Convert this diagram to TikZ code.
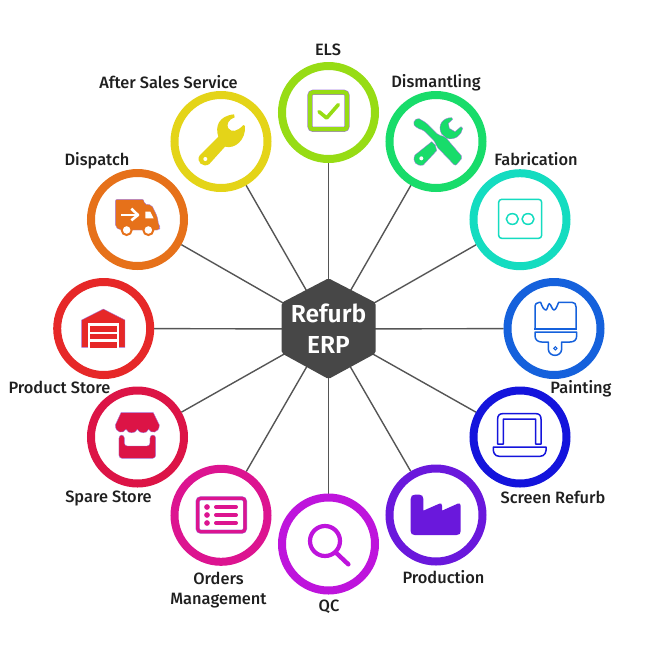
\documentclass[tikz,border=0pt]{standalone}
\usepackage{fontspec}
\setmainfont{Fira Sans}[UprightFont=* Medium,BoldFont=* SemiBold]
\usetikzlibrary{backgrounds}
\definecolor{cels}{HTML}{97DC14}
\definecolor{cafter}{HTML}{E4D418}
\definecolor{cdism}{HTML}{18DC6A}
\definecolor{cfab}{HTML}{14DCC0}
\definecolor{cpaint}{HTML}{1561DC}
\definecolor{cscreen}{HTML}{1414DC}
\definecolor{cprod}{HTML}{6A18DC}
\definecolor{cqc}{HTML}{BE14DC}
\definecolor{corders}{HTML}{DC1490}
\definecolor{cspare}{HTML}{DC1446}
\definecolor{cstore}{HTML}{E62828}
\definecolor{cdisp}{HTML}{E6711A}
\definecolor{lilac}{HTML}{A47BE0}
\definecolor{hexgrey}{HTML}{474747}
\definecolor{linegrey}{HTML}{555555}
\tikzset{
 ring/.style={circle,draw=#1,line width=8pt,minimum size=93pt,inner sep=0pt,fill=white},
 lab/.style={font=\fontsize{16.4}{20}\selectfont,text=black!88,align=center,inner sep=0pt},
 spoke/.style={draw=linegrey,line width=1.4pt},
 solid icon/.style={fill=#1,draw=lilac,line width=.35pt,line join=round},
 thin icon/.style={draw=#1,line width=1.5pt,line join=round,line cap=round},
}
\begin{document}
\begin{tikzpicture}[x=1pt,y=-1pt]
\useasboundingbox (0,0) rectangle (657,657);
% hub
\fill[hexgrey,rounded corners=2pt] (328.5,278.3) -- (375.7,302.7) -- (375.7,353.3) -- (328.5,379) -- (281.7,353.3) -- (281.7,302.7) -- cycle;
\node[text=white,align=center,inner sep=0pt,font=\fontsize{24.6}{31}\selectfont\bfseries] (hub) at (328.5,329) {Refurb\\ERP};
% rings
\node[ring=cels] (els) at (328.5,112.5) {};
\node[ring=cafter] (after) at (221,141.5) {};
\node[ring=cdism] (dism) at (436,141.5) {};
\node[ring=cfab] (fab) at (520,219.7) {};
\node[ring=cpaint] (paint) at (554,328.5) {};
\node[ring=cscreen] (screen) at (520,437) {};
\node[ring=cprod] (prod) at (436,515) {};
\node[ring=cqc] (qc) at (328.5,544) {};
\node[ring=corders] (orders) at (221,515.3) {};
\node[ring=cspare] (spare) at (137.5,437) {};
\node[ring=cstore] (store) at (103.7,328.5) {};
\node[ring=cdisp] (disp) at (137.5,219.5) {};
% spokes
\begin{scope}[on background layer]
\foreach \n in {els,after,dism,fab,paint,screen,prod,qc,orders,spare,store,disp}
  \draw[spoke] (hub.center) -- (\n);
\end{scope}
% labels
\node[lab] (lels) at (328,49.5) {ELS};
\node[lab] (lafter) at (168.5,82) {After Sales Service};
\node[lab] (ldism) at (436,82.5) {Dismantling};
\node[lab] (lfab) at (536,159.5) {Fabrication};
\node[lab] (lpaint) at (581,388.5) {Painting};
\node[lab] (lscreen) at (553,497) {Screen Refurb};
\node[lab] (lprod) at (443.5,577.5) {Production};
\node[lab] (lqc) at (329,607) {QC};
\node[lab] (lorders) at (218.5,590) {Orders\\Management};
\node[lab] (lspare) at (108.5,498) {Spare Store};
\node[lab] (lstore) at (59.5,387) {Product Store};
\node[lab] (ldisp) at (97,160.5) {Dispatch};
% icons from the first zoom frame
\begin{scope}[shift={(160,30)},scale=1/3]
 % ELS
 \draw[lilac,line width=5.2pt,rounded corners=3pt] (450,187) rectangle (561,298);
 \draw[cels,line width=4.2pt,rounded corners=3pt] (450,187) rectangle (561,298);
 \draw[cels,line width=3.6pt,line cap=round,line join=round] (477,245) -- (500,264) -- (535,224);
 % wrench
 \fill[cafter] (120,375) -- (175,320) .. controls (165,290) and (175,258) .. (222,253) -- (224,262)
   .. controls (205,268) and (198,285) .. (205,295) .. controls (215,308) and (232,305) .. (250,285)
   -- (255,288) .. controls (258,330) and (225,358) .. (195,350) -- (148,402)
   .. controls (130,415) and (105,395) .. (120,375) -- cycle;
 \fill[white] (136,387) circle[radius=6];
 % crossed tools: wrench
 \fill[solid icon=cdism] (875,263) .. controls (850,262) and (830,285) .. (845,312) -- (860,325)
   .. controls (885,332) and (905,315) .. (908,295) -- (903,290) -- (885,305) -- (868,295) -- (865,280) -- (878,268) -- cycle;
 \fill[solid icon=cdism] (815,335) -- (765,375) .. controls (755,395) and (770,410) .. (790,405) -- (830,362) -- (826,345) -- cycle;
 \fill[white] (784,385) circle[radius=6];
 \draw[solid icon=cdism,rounded corners=2pt] (758,280) -- (772,263) -- (798,278) -- (835,315) -- (855,320) -- (908,382) -- (886,408) -- (830,350) -- (825,335) -- (790,300) -- (772,295) -- cycle;
\end{scope}
% second zoom frame
\begin{scope}[shift={(450,150)},scale=1/3]
 \draw[thin icon=cfab,rounded corners=3pt] (146,148) rectangle (275,265);
 \draw[thin icon=cfab] (187,207) ellipse[x radius=18,y radius=16];
 \draw[thin icon=cfab] (234,207) ellipse[x radius=18,y radius=16];
 % brush
 \draw[thin icon=cpaint] (255,535) -- (255,472) .. controls (255,462) and (260,457) .. (268,457) -- (272,457) .. controls (276,470) and (282,480) .. (288,480) .. controls (292,480) and (294,462) .. (298,461) .. controls (303,462) and (306,480) .. (312,480) .. controls (318,480) and (322,465) .. (326,457) -- (366,457) .. controls (374,457) and (378,462) .. (378,470) -- (378,535);
 \draw[cpaint,line width=1.7pt] (252,537) -- (381,537);
 \draw[thin icon=cpaint] (255,546) -- (255,558) .. controls (255,570) and (265,576) .. (275,576) -- (295,576) -- (295,598) .. controls (297,622) and (333,622) .. (335,598) -- (335,576) -- (360,576) .. controls (372,576) and (380,570) .. (380,558) -- (380,546) -- cycle;
 \draw[cpaint,line width=1pt] (316,595) circle[radius=5];
\end{scope}
% third zoom frame
\begin{scope}[shift={(380,400)},scale=1/3]
 \draw[thin icon=cscreen] (353,132) -- (353,57) .. controls (353,47) and (358,41) .. (368,41) -- (468,41) .. controls (478,41) and (483,47) .. (483,57) -- (483,132) -- (467,132) -- (467,57) -- (370,57) -- (370,132) -- cycle;
 \draw[thin icon=cscreen] (340,141) -- (498,141) .. controls (500,155) and (495,169) .. (480,169) -- (358,169) .. controls (343,169) and (338,155) .. (340,141) -- cycle;
 \fill[cprod] (92,297) .. controls (92,288) and (97,284) .. (105,284) -- (118,284) .. controls (126,284) and (130,288) .. (130,297) -- (130,332) -- (178,311) .. controls (183,308) and (186,312) .. (186,317) -- (186,332) -- (233,311) .. controls (238,308) and (242,311) .. (242,317) -- (242,393) .. controls (242,401) and (238,405) .. (230,405) -- (104,405) .. controls (96,405) and (92,401) .. (92,393) -- cycle;
\end{scope}
% fourth zoom frame
\begin{scope}[shift={(160,460)},scale=1/3]
 \draw[cqc,line width=4.2pt] (495,243) circle[radius=45];
 \draw[cqc,line width=4.4pt,line cap=round] (530,280) -- (565,313);
 \draw[lilac,line width=4pt,rounded corners=3pt] (113,115) rectangle (255,215);
 \draw[corders,line width=3.2pt,rounded corners=3pt] (113,115) rectangle (255,215);
 \foreach \yy in {141,165,189}{
  \fill[corders] (141,\yy) circle[radius=8.5];
  \draw[corders,line width=4pt,line cap=round] (168,\yy) -- (228,\yy);
 }
\end{scope}
% fifth zoom frame
\begin{scope}[shift={(40,150)},scale=1/3]
 % truck
 \draw[solid icon=cdisp,rounded corners=2pt] (226,148) -- (312,148) -- (312,162) -- (335,165) -- (352,200) -- (356,226) -- (361,232) -- (358,240) -- (240,240) -- (226,230) -- cycle;
 \fill[white] (316,185) -- (331,185) -- (341,205) -- (316,205) -- cycle;
 \draw[white,line width=2.4pt,line join=round] (244,195) -- (290,195);
 \draw[white,line width=2.6pt,line join=round] (274,176) -- (294,195) -- (274,211);
 \draw[cdisp,line width=2pt,fill=white] (260,240) circle[radius=15];
 \draw[cdisp,line width=2pt,fill=white] (325,240) circle[radius=15];
 % warehouse
 \draw[solid icon=cstore] (190,477) -- (255,510) -- (255,592) -- (125,592) -- (125,510) -- cycle;
 \fill[white] (145,520) rectangle (237,593);
 \fill[cstore] (151,527) rectangle (231,546);
 \fill[cstore] (151,552) rectangle (231,567);
 \fill[cstore] (151,575) rectangle (231,593);
 % shop
 \draw[solid icon=cspare] (243,788) -- (340,788) -- (358,825) .. controls (358,850) and (332,852) .. (326,838) .. controls (320,852) and (300,852) .. (292,838) .. controls (285,852) and (265,852) .. (258,838) .. controls (250,852) and (226,850) .. (226,825) -- cycle;
 \draw[solid icon=cspare,rounded corners=3pt] (237,855) -- (237,925) -- (347,925) -- (347,855) -- (330,855) -- (330,888) -- (253,888) -- (253,855) -- cycle;
\end{scope}
\end{tikzpicture}
\end{document}
